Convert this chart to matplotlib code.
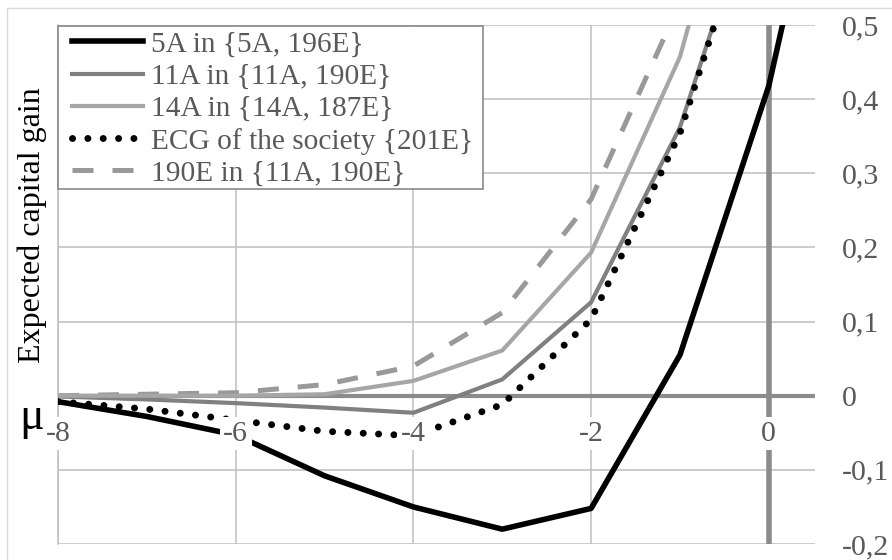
import numpy as np
import matplotlib
matplotlib.use("Agg")
import matplotlib.pyplot as plt
from matplotlib.patches import Rectangle

plt.rcParams['font.family'] = ['Liberation Serif', 'DejaVu Serif']

# data
x = [-8, -7, -6, -5, -4, -3, -2, -1, 0, 1]
a5 = [-0.008, -0.028, -0.053, -0.108, -0.150, -0.180, -0.152, 0.055, 0.418, 0.95]
a11 = [-0.001, -0.005, -0.010, -0.016, -0.023, 0.022, 0.126, 0.362, 0.73, 1.1]
a14 = [0.0, 0.0, 0.0, 0.002, 0.020, 0.061, 0.193, 0.457, 0.89, 1.3]
ecg = [-0.008, -0.018, -0.033, -0.048, -0.054, -0.012, 0.103, 0.354, 0.73, 1.1]
e190 = [0.0, 0.002, 0.004, 0.015, 0.040, 0.112, 0.265, 0.53, 0.9, 1.3]
labels = ['5A in {5A, 196E}', '11A in {11A, 190E}', '14A in {14A, 187E}',
          'ECG of the society {201E}', '190E in {11A, 190E}']

xticks = [-8, -6, -4, -2, 0]
xtick_labels = ['-8', '-6', '-4', '-2', '0']
yticks = [-0.2, -0.1, 0, 0.1, 0.2, 0.3, 0.4, 0.5]
ytick_labels = ['-0,2', '-0,1', '0', '0,1', '0,2', '0,3', '0,4', '0,5']

W, H = 892, 560
fig = plt.figure(figsize=(W / 100, H / 100), dpi=100)
ax = fig.add_axes([58 / W, 1 - 544 / H, (815 - 58) / W, (544 - 25) / H])

fs = 21.2
tfs = 21.5
tcol = '#595959'
gcol = '#bfbfbf'

ax.set_xlim(-8, 0.52)
ax.set_ylim(-0.2, 0.5)
ax.set_xticks(xticks)
ax.set_yticks(yticks)
ax.set_xticklabels([])
ax.set_yticklabels(ytick_labels)
ax.yaxis.tick_right()
ax.tick_params(axis='both', length=0)
ax.tick_params(axis='y', labelsize=tfs, labelcolor=tcol, pad=19)
for s in ['top', 'right', 'bottom']:
    ax.spines[s].set_visible(False)
ax.spines['left'].set_color(gcol)
ax.spines['left'].set_linewidth(1.1)
ax.grid(True, color=gcol, lw=1.1, zorder=0)
ax.set_axisbelow(True)

ax.axhline(0, color='#8c8c8c', lw=3.0, zorder=1)
ax.axvline(0, color='#8c8c8c', lw=4.0, zorder=1)

ax.plot(x, a5, color='black', lw=4.0, label=labels[0], zorder=5)
ax.plot(x, a11, color='#808080', lw=3.0, label=labels[1], zorder=3)
ax.plot(x, a14, color='#a6a6a6', lw=3.0, label=labels[2], zorder=3)
ax.plot(x, ecg, color='black', lw=5.0, ls=(0, (0.01, 2.2)), dash_capstyle='round',
        label=labels[3], zorder=4)
ax.plot(x, e190, color='#999999', lw=3.6, ls=(0, (4.2, 3.8)), label=labels[4], zorder=2)

for xv, lab in zip(xticks, xtick_labels):
    ax.annotate(lab, xy=(xv, 0), xytext=(0, -38), textcoords='offset pixels',
                ha='center', va='center', fontsize=tfs, color=tcol, zorder=10,
                bbox=dict(boxstyle='square,pad=0.12', fc='white', ec='none'))

# legend box drawn separately so the padding matches
ax.add_patch(Rectangle((58 / W, 1 - 189 / H), (483 - 58) / W, (189 - 26) / H,
                       transform=fig.transFigure, fc='white', ec='#808080', lw=1.1,
                       zorder=19, clip_on=False))
leg = ax.legend(loc='upper left', bbox_to_anchor=(72 / W, 1 - 31 / H),
                bbox_transform=fig.transFigure, borderaxespad=0, borderpad=0,
                fontsize=fs, frameon=False, handlelength=2.4,
                handletextpad=0.27, labelspacing=0.19)
leg.set_zorder(20)
for t in leg.get_texts():
    t.set_color(tcol)

fig.text(32 / W, 1 - 225 / H, 'Expected capital gain', rotation=90,
         ha='center', va='center', fontsize=23, color='black')
fig.text(32 / W, 1 - 418 / H, 'μ', ha='center', va='center', fontsize=33, color='black')

fig.patches.append(Rectangle((7 / W, -0.1), 1.2, 1.1 - 8 / H, transform=fig.transFigure,
                             fill=False, ec='#d9d9d9', lw=1.0))

fig.savefig('out.png', dpi=100)
